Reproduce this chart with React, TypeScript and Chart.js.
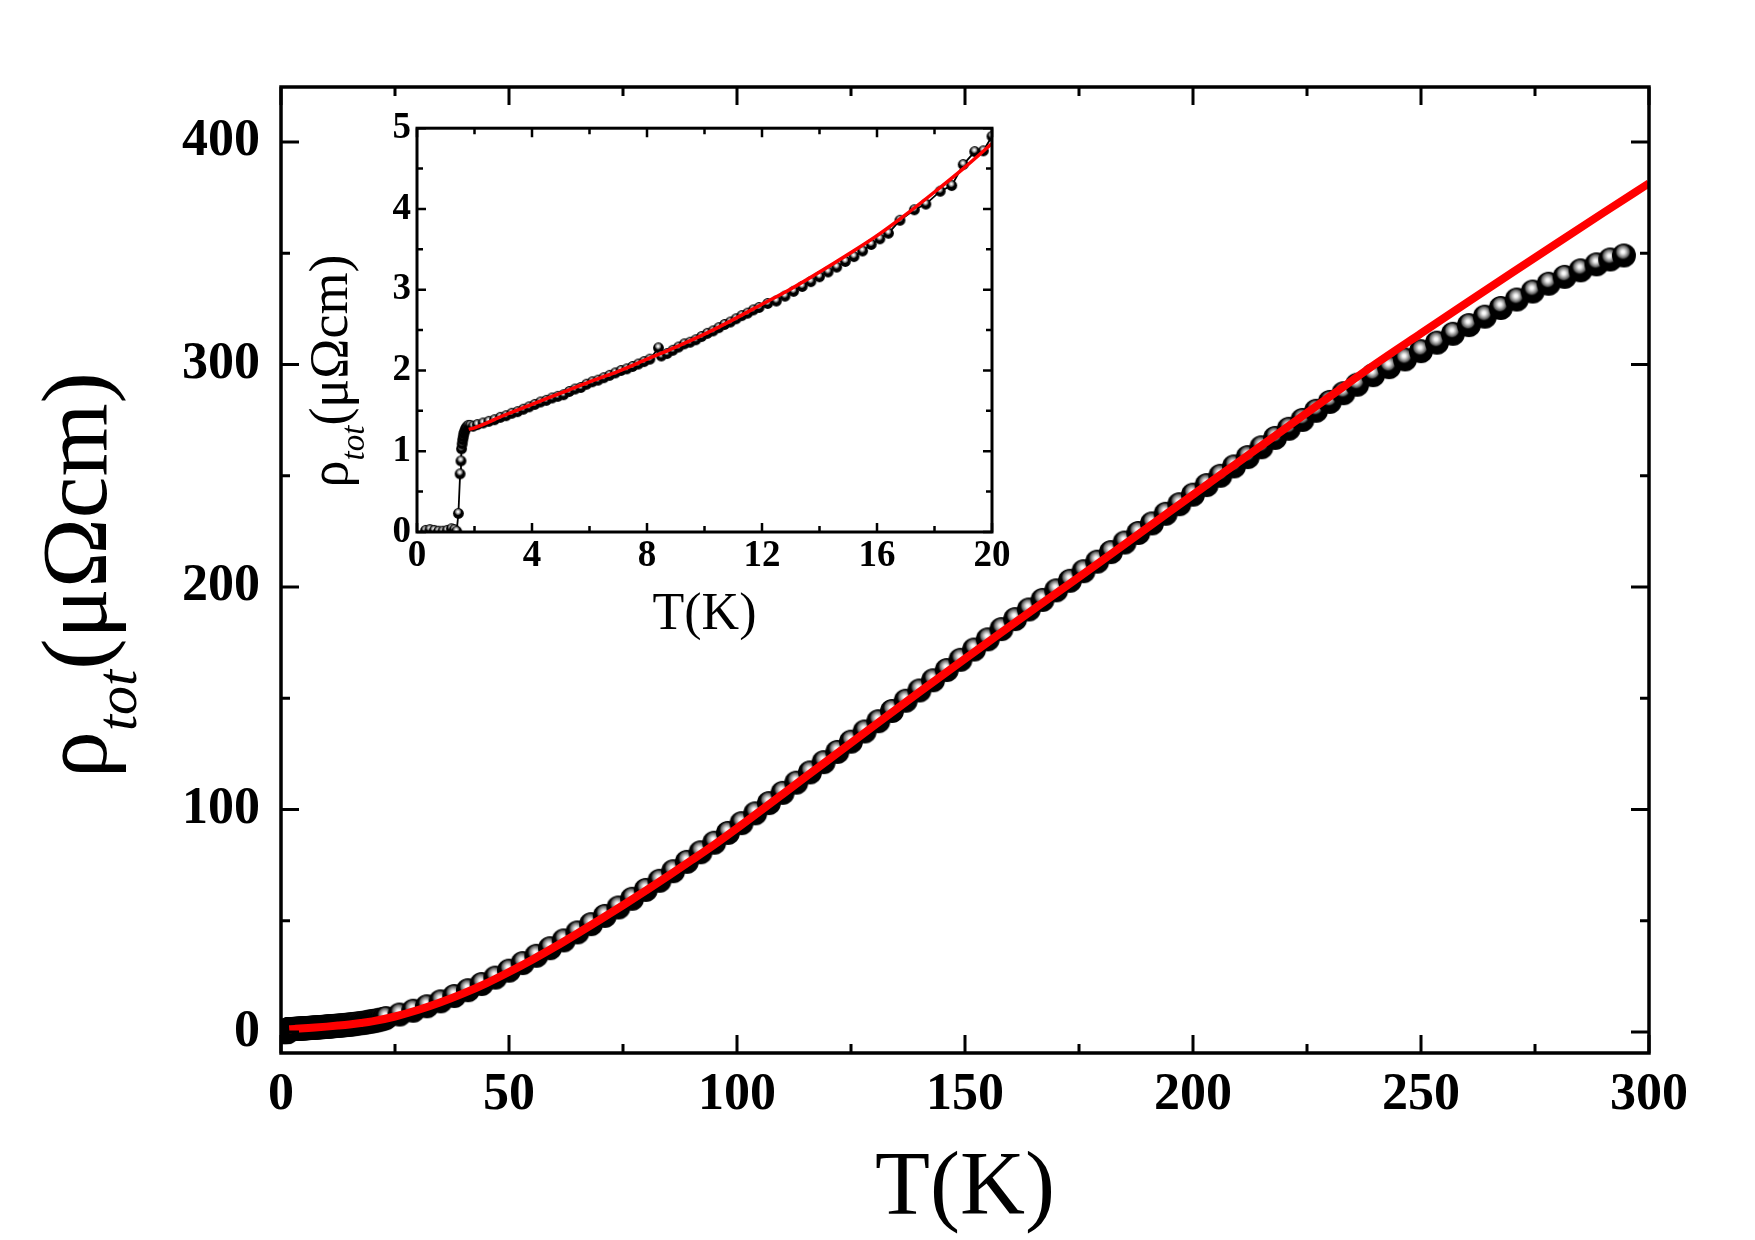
import React, { useEffect, useRef } from 'react';
import { Chart, registerables } from 'chart.js';

Chart.register(...registerables);

const SERIF = "'Liberation Serif', 'Times New Roman', serif";

// ---------- low-temperature data (inset, also part of main curve) ----------
const insetT = [
  0.3, 0.45, 0.6, 0.75, 0.9, 1.05, 1.2, 1.3, 1.38, 1.44,
  1.5, 1.53, 1.55, 1.57, 1.59, 1.61, 1.63, 1.66, 1.69, 1.73,
  1.78, 1.85, 1.95,
  2.1, 2.3, 2.5, 2.7, 2.9, 3.1, 3.3, 3.5, 3.7, 3.9,
  4.1, 4.3, 4.5, 4.7, 4.9, 5.1, 5.3, 5.5, 5.7, 5.9,
  6.1, 6.3, 6.5, 6.7, 6.9, 7.1, 7.3, 7.5, 7.7, 7.9,
  8.1, 8.4, 8.5, 8.7, 8.9, 9.1, 9.3, 9.5, 9.7, 9.9,
  10.1, 10.3, 10.5, 10.7, 10.9, 11.1, 11.3, 11.5, 11.7, 11.9,
  12.2, 12.5, 12.8, 13.1, 13.4, 13.7, 14.0, 14.3, 14.6, 14.9,
  15.2, 15.5, 15.8, 16.1, 16.4, 16.8, 17.3, 17.7, 18.2, 18.6,
  19.0, 19.4, 19.7, 20.0,
];
const insetRho = [
  0.02, 0.03, 0.02, 0.01, 0.01, 0.02, 0.04, 0.03, 0.01, 0.23,
  0.72, 0.88, 1.03, 1.09, 1.14, 1.18, 1.22, 1.25, 1.28, 1.30,
  1.32, 1.32, 1.31,
  1.33, 1.35, 1.37, 1.39, 1.42, 1.44, 1.47, 1.49, 1.52, 1.55,
  1.58, 1.61, 1.63, 1.66, 1.68, 1.70, 1.74, 1.77, 1.79, 1.83,
  1.86, 1.88, 1.91, 1.94, 1.97, 2.00, 2.02, 2.05, 2.08, 2.11,
  2.14, 2.28, 2.18, 2.21, 2.25, 2.29, 2.33, 2.35, 2.38, 2.42,
  2.46, 2.49, 2.53, 2.57, 2.60, 2.64, 2.68, 2.71, 2.75, 2.78,
  2.83, 2.86, 2.92, 2.98, 3.04, 3.10, 3.16, 3.22, 3.28, 3.35,
  3.41, 3.48, 3.56, 3.63, 3.70, 3.86, 3.99, 4.06, 4.22, 4.29,
  4.55, 4.71, 4.72, 4.90,
];

// ---------- higher-temperature data (main plot) ----------
const highT = [
  20.4, 20.8, 21.3, 21.8, 22.4, 23, 26, 29, 32, 35,
  38, 41, 44, 47, 50, 53, 56, 59, 62, 65,
  68, 71, 74, 77, 80, 83, 86, 89, 92, 95,
  98, 101, 104, 107, 110, 113, 116, 119, 122, 125,
  128, 131, 134, 137, 140, 143, 146, 149, 152, 155,
  158, 161, 164, 167, 170, 173, 176, 179, 182, 185,
  188, 191, 194, 197, 200, 203, 206, 209, 212, 215,
  218, 221, 224, 227, 230, 233, 236, 239.5, 243, 246.5,
  250, 253.5, 257, 260.5, 264, 267.5, 271, 274.5, 278, 281.5,
  285, 288.5, 291.5, 294.5,
];
const highRho = [
  4.98, 5.15, 5.35, 5.6, 5.9, 6.3, 7.9, 9.6, 11.6, 13.8,
  16.2, 18.8, 21.6, 24.5, 27.6, 31.0, 34.3, 37.7, 41.2, 44.8,
  48.5, 52.2, 56.0, 59.9, 63.9, 68.0, 72.3, 76.5, 80.8, 85.1,
  89.5, 93.9, 98.3, 102.9, 107.5, 112.1, 116.7, 121.3, 125.9, 130.5,
  135.1, 139.7, 144.3, 148.9, 153.5, 158.1, 162.7, 167.3, 171.9, 176.5,
  181.1, 185.6, 189.9, 194.2, 198.5, 202.8, 207.1, 211.4, 215.7, 220.0,
  224.3, 228.6, 232.9, 237.2, 241.5, 245.8, 250.0, 254.2, 258.4, 262.8,
  267.0, 271.1, 275.1, 279.2, 283.2, 287.1, 290.9, 295.2, 298.8, 302.3,
  306.0, 309.8, 313.8, 317.7, 321.5, 325.4, 329.2, 332.8, 336.3, 339.4,
  342.3, 345.0, 347.2, 349.0,
];

// ---------- fit curves ----------
const fitT = [
  1.8, 3, 5, 7.5, 10, 12.5, 15, 17.5, 20,
  25, 30, 35, 40, 45, 50, 55, 60, 65, 70,
  75, 80, 85, 90, 95, 100,
  110, 120, 130, 140, 150, 160, 170, 180, 190, 200,
  210, 220, 230, 240, 250, 260, 270, 280, 290, 300,
];
const fitRho = [
  1.27, 1.44, 1.72, 2.06, 2.45, 2.92, 3.44, 4.07, 4.81,
  7.0, 9.9, 13.4, 17.4, 21.9, 27.0, 32.4, 38.2, 44.3, 50.6,
  57.0, 63.6, 70.3, 77.2, 84.2, 91.6,
  106.9, 122.3, 137.6, 152.8, 167.8, 182.6, 197.2, 211.8, 226.6, 241.5,
  256.2, 270.9, 285.6, 300.2, 314.0, 327.7, 341.3, 354.8, 368.2, 381.4,
];
const insetFitT = [1.8, 2, 3, 4, 5, 6, 7, 8, 9, 10, 11, 12, 13, 14, 15, 16, 17, 18, 19, 20];
const insetFitRho = [1.27, 1.29, 1.44, 1.58, 1.72, 1.86, 1.99, 2.14, 2.29, 2.45, 2.63, 2.82, 3.01, 3.22, 3.44, 3.67, 3.93, 4.21, 4.50, 4.81];

// ---------- ticks ----------
const mainXMajor = [0, 50, 100, 150, 200, 250, 300];
const mainXMinor = [25, 75, 125, 175, 225, 275];
const mainYMajor = [0, 100, 200, 300, 400];
const mainYMinor = [50, 150, 250, 350];
const insetXMajor = [0, 4, 8, 12, 16, 20];
const insetXMinor = [2, 6, 10, 14, 18];
const insetYMajor = [0, 1, 2, 3, 4, 5];
const insetYMinor = [0.5, 1.5, 2.5, 3.5, 4.5];

// ---------- titles ----------
const xTitleText = 'T(K)';
const yTitleMain = 'ρ';
const yTitleSub = 'tot';
const yTitleRest = '(μΩcm)';

function makeBall(r: number): HTMLCanvasElement {
  const s = Math.ceil(2 * r + 2);
  const c = document.createElement('canvas');
  c.width = s;
  c.height = s;
  const g = c.getContext('2d')!;
  const cx = s / 2;
  const cy = s / 2;
  g.beginPath();
  g.arc(cx, cy, r, 0, Math.PI * 2);
  g.fillStyle = '#000';
  g.fill();
  const hx = cx - r * 0.08;
  const hy = cy - r * 0.3;
  const hr = r * 0.68;
  const grad = g.createRadialGradient(hx, hy, 0, hx, hy, hr);
  grad.addColorStop(0, '#ffffff');
  grad.addColorStop(0.2, '#f2f2f2');
  grad.addColorStop(0.45, '#b4b4b4');
  grad.addColorStop(0.75, '#5e5e5e');
  grad.addColorStop(1, 'rgba(0,0,0,0)');
  g.beginPath();
  g.arc(hx, hy, hr, 0, Math.PI * 2);
  g.fillStyle = grad;
  g.fill();
  return c;
}

const framePlugin = {
  id: 'frame',
  afterDatasetsDraw(chart: any, _args: any, o: any) {
    const { ctx, chartArea } = chart;
    const { left, right, top, bottom } = chartArea;
    const xs = chart.scales.x;
    const ys = chart.scales.y;
    ctx.save();
    ctx.strokeStyle = '#000';
    ctx.lineCap = 'butt';
    ctx.lineWidth = o.tickWidth;
    ctx.beginPath();
    const xt = (vals: number[], len: number) =>
      vals.forEach((v) => {
        const p = xs.getPixelForValue(v);
        ctx.moveTo(p, bottom);
        ctx.lineTo(p, bottom - len);
        ctx.moveTo(p, top);
        ctx.lineTo(p, top + len);
      });
    const yt = (vals: number[], len: number) =>
      vals.forEach((v) => {
        const p = ys.getPixelForValue(v);
        ctx.moveTo(left, p);
        ctx.lineTo(left + len, p);
        ctx.moveTo(right, p);
        ctx.lineTo(right - len, p);
      });
    xt(o.xMajor, o.majorLen);
    xt(o.xMinor, o.minorLen);
    yt(o.yMajor, o.majorLen);
    yt(o.yMinor, o.minorLen);
    ctx.stroke();
    ctx.lineWidth = o.frameWidth;
    ctx.strokeRect(left, top, right - left, bottom - top);
    ctx.restore();
  },
};

const titlePlugin = {
  id: 'titles',
  afterDraw(chart: any, _args: any, o: any) {
    const { ctx, chartArea } = chart;
    ctx.save();
    ctx.fillStyle = '#000';
    ctx.textBaseline = 'alphabetic';
    ctx.font = `${o.xSize}px ${SERIF}`;
    ctx.textAlign = 'center';
    ctx.fillText(xTitleText, (chartArea.left + chartArea.right) / 2, o.xBaseline);

    ctx.translate(o.yBaseline, o.yCenter);
    ctx.rotate(-Math.PI / 2);
    ctx.textAlign = 'left';
    const mainFont = `${o.ySize}px ${SERIF}`;
    const subFont = `italic ${o.ySubSize}px ${SERIF}`;
    ctx.font = mainFont;
    const w1 = ctx.measureText(yTitleMain).width;
    const w3 = ctx.measureText(yTitleRest).width;
    ctx.font = subFont;
    const w2 = ctx.measureText(yTitleSub).width;
    let x0 = -(w1 + w2 + w3) / 2;
    ctx.font = mainFont;
    ctx.fillText(yTitleMain, x0, 0);
    x0 += w1;
    ctx.font = subFont;
    ctx.fillText(yTitleSub, x0, o.ySubShift);
    x0 += w2;
    ctx.font = mainFont;
    ctx.fillText(yTitleRest, x0, 0);
    ctx.restore();
  },
};

function tickFont(size: number) {
  return { family: SERIF, size, weight: 'bold' as const };
}

export default function App() {
  const mainRef = useRef<HTMLCanvasElement>(null);
  const insetRef = useRef<HTMLCanvasElement>(null);

  useEffect(() => {
    const big = makeBall(12);
    const small = makeBall(5.4);

    const mainPoints = insetT
      .map((t, i) => ({ x: t, y: insetRho[i] }))
      .concat(highT.map((t, i) => ({ x: t, y: highRho[i] })));
    const fitPoints = fitT.map((t, i) => ({ x: t, y: fitRho[i] }));

    const main = new Chart(mainRef.current!, {
      type: 'scatter',
      data: {
        datasets: [
          {
            data: fitPoints,
            showLine: true,
            borderColor: '#ff0000',
            borderWidth: 8,
            pointRadius: 0,
            cubicInterpolationMode: 'monotone',
            order: 0,
            clip: 0,
          } as any,
          {
            data: mainPoints,
            showLine: false,
            pointStyle: big,
            pointRadius: 12,
            order: 1,
            clip: 0,
          } as any,
        ],
      },
      plugins: [framePlugin, titlePlugin],
      options: {
        animation: false,
        responsive: false,
        devicePixelRatio: 1,
        events: [],
        layout: { padding: { top: 87, right: 106, bottom: 0, left: 0 } },
        plugins: {
          legend: { display: false },
          tooltip: { enabled: false },
          frame: {
            xMajor: mainXMajor, xMinor: mainXMinor, yMajor: mainYMajor, yMinor: mainYMinor,
            majorLen: 18, minorLen: 9, tickWidth: 3, frameWidth: 3.5,
          },
          titles: {
            xSize: 90, xBaseline: 1214,
            ySize: 94, ySubSize: 58, ySubShift: 30, yBaseline: 106, yCenter: 575,
          },
        } as any,
        scales: {
          x: {
            type: 'linear', min: 0, max: 300,
            grid: { display: false, drawTicks: false },
            border: { display: false },
            afterBuildTicks: (s: any) => { s.ticks = mainXMajor.map((v) => ({ value: v })); },
            afterFit: (s: any) => { s.height = 187; },
            ticks: { autoSkip: false, maxRotation: 0, minRotation: 0, padding: 11, color: '#000', font: tickFont(52) },
          },
          y: {
            type: 'linear', min: -9.4, max: 424.7,
            grid: { display: false, drawTicks: false },
            border: { display: false },
            afterBuildTicks: (s: any) => { s.ticks = mainYMajor.map((v) => ({ value: v })); },
            afterFit: (s: any) => { s.width = 281; },
            ticks: { autoSkip: false, padding: 21, color: '#000', font: tickFont(52) },
          },
        } as any,
      },
    });

    const insetPoints = insetT.map((t, i) => ({ x: t, y: insetRho[i] }));
    const insetFitPoints = insetFitT.map((t, i) => ({ x: t, y: insetFitRho[i] }));

    const inset = new Chart(insetRef.current!, {
      type: 'scatter',
      data: {
        datasets: [
          {
            data: insetFitPoints,
            showLine: true,
            borderColor: '#ff0000',
            borderWidth: 3.5,
            pointRadius: 0,
            cubicInterpolationMode: 'monotone',
            order: 0,
            clip: 0,
          } as any,
          {
            data: insetPoints,
            showLine: true,
            borderColor: '#000',
            borderWidth: 1.8,
            pointStyle: small,
            pointRadius: 5.4,
            order: 1,
            clip: 0,
          } as any,
        ],
      },
      plugins: [framePlugin, titlePlugin],
      options: {
        animation: false,
        responsive: false,
        devicePixelRatio: 1,
        events: [],
        layout: { padding: { top: 25, right: 28, bottom: 0, left: 0 } },
        plugins: {
          legend: { display: false },
          tooltip: { enabled: false },
          frame: {
            xMajor: insetXMajor, xMinor: insetXMinor, yMajor: insetYMajor, yMinor: insetYMinor,
            majorLen: 9, minorLen: 6, tickWidth: 2.5, frameWidth: 3,
          },
          titles: {
            xSize: 52, xBaseline: 529,
            ySize: 54, ySubSize: 33, ySubShift: 17, yBaseline: 47, yCenter: 271,
          },
        } as any,
        scales: {
          x: {
            type: 'linear', min: 0, max: 20,
            grid: { display: false, drawTicks: false },
            border: { display: false },
            afterBuildTicks: (s: any) => { s.ticks = insetXMajor.map((v) => ({ value: v })); },
            afterFit: (s: any) => { s.height = 128; },
            ticks: { autoSkip: false, maxRotation: 0, minRotation: 0, padding: 2, color: '#000', font: tickFont(37) },
          },
          y: {
            type: 'linear', min: 0, max: 5,
            grid: { display: false, drawTicks: false },
            border: { display: false },
            afterBuildTicks: (s: any) => { s.ticks = insetYMajor.map((v) => ({ value: v })); },
            afterFit: (s: any) => { s.width = 117; },
            ticks: { autoSkip: false, padding: 6, color: '#000', font: tickFont(37) },
          },
        } as any,
      },
    });

    return () => {
      main.destroy();
      inset.destroy();
    };
  }, []);

  return (
    <div style={{ position: 'absolute', left: 0, top: 0, width: 1755, height: 1240, background: '#fff', overflow: 'hidden' }}>
      <canvas
        ref={mainRef}
        width={1755}
        height={1240}
        style={{ position: 'absolute', left: 0, top: 0, width: 1755, height: 1240 }}
      />
      <canvas
        ref={insetRef}
        width={720}
        height={560}
        style={{ position: 'absolute', left: 300, top: 100, width: 720, height: 560 }}
      />
    </div>
  );
}
